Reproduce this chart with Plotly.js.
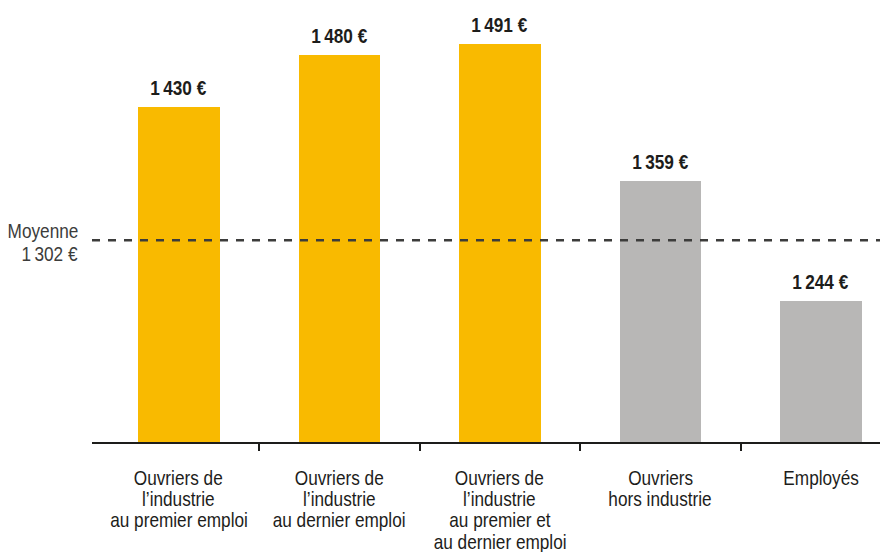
<!DOCTYPE html>
<html>
<head>
<meta charset="utf-8">
<script src="https://cdn.plot.ly/plotly-3.0.1.min.js"></script>
<style>html,body{margin:0;padding:0;background:#fff;}#chart{width:880px;height:552px;}</style>
</head>
<body>
<div id="chart"></div>
<script>
// ---- data ----
const categories = [
  ["Ouvriers de", "l\u2019industrie", "au premier emploi"],
  ["Ouvriers de", "l\u2019industrie", "au dernier emploi"],
  ["Ouvriers de", "l\u2019industrie", "au premier et", "au dernier emploi"],
  ["Ouvriers", "hors industrie"],
  ["Employés"]
];
const values = [1430, 1480, 1491, 1359, 1244];
const valueLabels = ["1\u202F430 €", "1\u202F480 €", "1\u202F491 €", "1\u202F359 €", "1\u202F244 €"];
const barColors = ["#F9BA00", "#F9BA00", "#F9BA00", "#B8B7B6", "#B8B7B6"];
const meanValue = 1302;
const meanLabel = ["Moyenne", "1\u202F302 €"];

// ---- chart ----
const FONT = "'Liberation Sans', Arial, sans-serif";
const xs = values.map((_, i) => i);

const trace = {
  type: "bar",
  x: xs,
  y: values,
  width: 0.51,
  marker: { color: barColors, line: { width: 0 } },
  hoverinfo: "none"
};

const annotations = [];
values.forEach((v, i) => {
  annotations.push({
    x: i, y: v, xref: "x", yref: "y",
    text: "<b>" + valueLabels[i] + "</b>",
    showarrow: false, yanchor: "bottom", yshift: 6,
    font: { family: FONT, size: 21, color: "#1d1d1b" }
  });
});
categories.forEach((lines, i) => {
  lines.forEach((line, k) => {
    annotations.push({
      x: i, y: 0, xref: "x", yref: "paper",
      text: line, showarrow: false, yanchor: "middle",
      yshift: -(35 + k * 21.4),
      font: { family: FONT, size: 21, color: "#1d1d1b" }
    });
  });
});
meanLabel.forEach((line, k) => {
  annotations.push({
    x: 0, y: meanValue, xref: "paper", yref: "y",
    text: line, showarrow: false, xanchor: "right", yanchor: "middle", align: "right",
    xshift: -12, yshift: 10 - k * 23,
    font: { family: FONT, size: 21, color: "#3c3c3b" }
  });
});

const layout = {
  width: 880, height: 552,
  margin: { l: 92, r: 0, t: 20, b: 110, pad: 0 },
  paper_bgcolor: "#fff", plot_bgcolor: "#fff",
  showlegend: false,
  bargap: 0,
  xaxis: {
    type: "linear", range: [-0.542, 4.368],
    showgrid: false, zeroline: false,
    showline: true, linecolor: "#1d1d1b", linewidth: 2,
    tickmode: "array", tickvals: [0.5, 1.5, 2.5, 3.5],
    ticks: "outside", ticklen: 7, tickwidth: 2, tickcolor: "#1d1d1b",
    showticklabels: false, fixedrange: true
  },
  yaxis: {
    range: [1108, 1514],
    visible: false, showgrid: false, zeroline: false, fixedrange: true
  },
  shapes: [{
    type: "line", xref: "paper", yref: "y",
    x0: 0, x1: 1, y0: meanValue, y1: meanValue,
    line: { color: "#3c3c3b", width: 2.5, dash: "8px,8px" },
    layer: "above"
  }],
  annotations: annotations
};

Plotly.newPlot("chart", [trace], layout, { displayModeBar: false, staticPlot: true }).then(() => {
  // condense the text horizontally (no condensed face is installed)
  document.querySelectorAll("#chart .annotation-text").forEach(t => {
    const anchor = t.getAttribute("text-anchor");
    t.style.transformBox = "fill-box";
    t.style.transformOrigin = anchor === "end" ? "right center" : (anchor === "start" ? "left center" : "center");
    t.style.transform = "scaleX(0.82)";
  });
});
</script>
</body>
</html>
